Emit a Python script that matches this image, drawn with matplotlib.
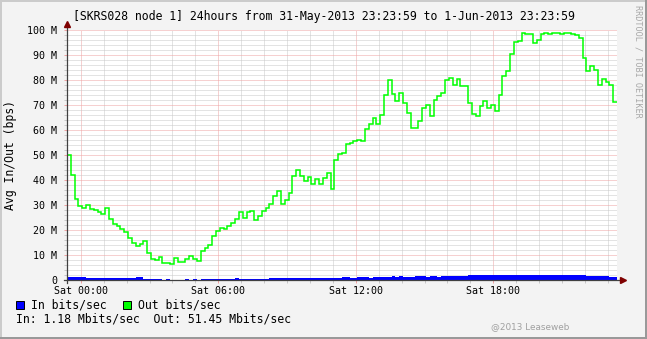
import datetime as dt
import numpy as np
import matplotlib
matplotlib.use("Agg")
import matplotlib.pyplot as plt
import matplotlib.dates as mdates
from matplotlib.ticker import MultipleLocator, FuncFormatter
from matplotlib.patches import Rectangle
from matplotlib.lines import Line2D

# ---------------- data ----------------
title = "[SKRS028 node 1] 24hours from 31-May-2013 23:23:59 to 1-Jun-2013 23:23:59"
start_time = dt.datetime(2013, 5, 31, 23, 23, 59)
step_minutes = 10
y_label = "Avg In/Out (bps)"
series_names = ["In bits/sec", "Out bits/sec"]
summary_text = "In: 1.18 Mbits/sec  Out: 51.45 Mbits/sec"
watermark = "RRDTOOL / TOBI OETIKER"
copyright_text = "@2013 Leaseweb"

# Out traffic, Mbit/s, one value per 10 minutes
out_mbps = [
    50, 42, 32.5, 29.5, 29, 30.2, 28.5, 28, 27.3, 26.5,
    29, 24.5, 22.3, 21.5, 20.4, 19.1, 16.7, 14.8, 13.5, 14.4,
    15.5, 11, 8.6, 8, 9.1, 6.8, 6.9, 6.6, 8.7, 7.2,
    7.4, 8.5, 9.6, 8.5, 7.8, 11.5, 12.9, 14.2, 17.5, 19.8,
    20.7, 20.4, 21.5, 23, 24.5, 27.3, 25, 27.1, 27.7, 24,
    25.8, 27.5, 29, 30.5, 33.5, 35.5, 30.5, 32, 35, 41.5,
    44, 41.5, 39.5, 41.2, 38.3, 40.6, 38.5, 41, 43, 36.5,
    48, 50.5, 51, 54.5, 55, 55.5, 56, 55.5, 60.5, 62.6,
    65, 62.3, 66, 74, 80, 74.5, 71.5, 75, 70.8, 67,
    61, 60.7, 63.5, 69, 70, 65.5, 72, 73.5, 75, 80,
    81, 78, 80.5, 77.5, 77.5, 70.8, 66.5, 65.8, 69.5, 71.5,
    69, 70, 67.5, 74, 81.5, 83.5, 90.5, 95.4, 95.5, 98.7,
    98.5, 98.5, 94.8, 96, 98.3, 98.7, 98.4, 98.7, 98.7, 98.4,
    98.7, 98.7, 98.6, 98, 97, 89, 83.5, 85.7, 84, 78,
    80.5, 79.2, 78, 71.4,
]

# In traffic, Mbit/s, one value per 10 minutes
in_mbps = [
    1.4, 1.4, 1.4, 1.3, 1.2, 1.0, 1.0, 1.0, 0.9, 0.9,
    0.9, 0.9, 1.0, 0.8, 1.0, 0.8, 0.9, 0.8, 1.1, 1.1,
    0.6, 0.5, 0.5, 0.4, 0.4, 0.1, 0.3, 0.1, 0.1, 0.1,
    0.1, 0.4, 0.1, 0.4, 0.1, 0.6, 0.6, 0.6, 0.6, 0.6,
    0.6, 0.6, 0.6, 0.6, 0.8, 0.6, 0.6, 0.6, 0.6, 0.6,
    0.6, 0.6, 0.6, 0.9, 0.9, 0.9, 0.9, 0.9, 0.9, 1.0,
    1.0, 1.0, 1.0, 1.0, 1.0, 1.0, 1.0, 1.0, 1.0, 1.0,
    1.0, 1.0, 1.1, 1.1, 1.0, 1.0, 1.1, 1.1, 1.1, 1.0,
    1.1, 1.1, 1.4, 1.4, 1.4, 1.5, 1.4, 1.5, 1.4, 1.4,
    1.4, 1.5, 1.5, 1.5, 1.4, 1.5, 1.5, 1.4, 1.5, 1.5,
    1.5, 1.5, 1.5, 1.5, 1.5, 2.0, 2.0, 2.1, 2.1, 2.1,
    2.1, 2.0, 2.0, 2.1, 2.1, 2.2, 2.2, 2.1, 2.1, 2.1,
    2.0, 2.1, 2.1, 2.1, 2.0, 2.1, 2.1, 2.0, 2.0, 2.0,
    2.0, 2.0, 2.0, 1.9, 1.9, 1.9, 1.6, 1.5, 1.5, 1.5,
    1.5, 1.5, 1.4, 1.4,
]

# ---------------- style ----------------
W, H = 647, 339
MONO = "DejaVu Sans Mono"
BACK = "#F3F3F3"
GRID = "#C8C8C8"
MGRID = "#EFA3A3"
AXIS = "#404040"
ARROW = "#7F0000"

fig = plt.figure(figsize=(W / 100, H / 100), dpi=100, facecolor=BACK)

def fx(px):
    return px / W

def fy(py):
    return 1 - py / H

L, R, T, B = 67, 617, 30, 280
ax = fig.add_axes([fx(L), fy(B), (R - L) / W, (B - T) / H])
ax.set_facecolor("white")

edges = [start_time + dt.timedelta(minutes=step_minutes * k) for k in range(len(out_mbps) + 1)]
edges_num = mdates.date2num(edges)

ax.stairs(in_mbps, edges_num, fill=True, color="#0000FF", linewidth=0, zorder=3)
ax.stairs(out_mbps, edges_num, baseline=None, color="#00FF00", linewidth=1.1, zorder=4)

ax.set_xlim(mdates.date2num(start_time), mdates.date2num(start_time + dt.timedelta(hours=24)))
ax.set_ylim(0, 100)

ax.xaxis.set_major_locator(mdates.HourLocator(byhour=[0, 6, 12, 18]))
ax.xaxis.set_minor_locator(mdates.HourLocator())
ax.xaxis.set_major_formatter(mdates.DateFormatter("%a %H:%M"))
ax.yaxis.set_major_locator(MultipleLocator(10))
ax.yaxis.set_minor_locator(MultipleLocator(2))
ax.yaxis.set_major_formatter(FuncFormatter(lambda v, p: "0" if v == 0 else f"{int(round(v))} M"))

ax.grid(which="minor", color=GRID, linestyle=(0, (1, 1)), linewidth=0.72, zorder=1)
ax.grid(which="major", color=MGRID, linestyle=(0, (1, 1)), linewidth=0.72, zorder=2)
ax.set_axisbelow(True)

ax.tick_params(axis="both", which="major", length=2, width=0.72, color=MGRID, pad=2,
               labelsize=7.2, labelcolor="black")
ax.tick_params(axis="both", which="minor", length=2, width=0.72, color=GRID)
ax.tick_params(axis="y", pad=5)
for lab in ax.get_xticklabels() + ax.get_yticklabels():
    lab.set_family(MONO)

for s in ax.spines.values():
    s.set_visible(False)

# axis lines with arrows (rrdtool style)
ax.add_line(Line2D([-3 / 550, 1 + 4 / 550], [0, 0], transform=ax.transAxes,
                   color=AXIS, linewidth=0.9, clip_on=False, zorder=6))
ax.add_line(Line2D([0, 0], [-3 / 250, 1 + 4 / 250], transform=ax.transAxes,
                   color=AXIS, linewidth=0.9, clip_on=False, zorder=6))
ax.plot([1 + 6 / 550], [0], marker=">", markersize=4.5, color=ARROW,
        transform=ax.transAxes, clip_on=False, zorder=7)
ax.plot([0], [1 + 6 / 250], marker="^", markersize=4.5, color=ARROW,
        transform=ax.transAxes, clip_on=False, zorder=7)

# title and labels
fig.text(fx(324), fy(20), title, ha="center", va="baseline", fontsize=8.3,
         family=MONO, color="black")
fig.text(fx(11), fy(155), y_label, ha="center", va="center", rotation=90,
         fontsize=8.3, family=MONO, color="black")

# legend
colors = ["#0000FF", "#00FF00"]
leg_x = [16, 123]
for name, c, x0 in zip(series_names, colors, leg_x):
    fig.add_artist(Rectangle((fx(x0), fy(309)), 8 / W, 8 / H, transform=fig.transFigure,
                             facecolor=c, edgecolor="black", linewidth=0.7))
    fig.text(fx(x0 + 15), fy(305.5), name, ha="left", va="center", fontsize=8.3,
             family=MONO, color="black")
fig.text(fx(16), fy(319.5), summary_text, ha="left", va="center", fontsize=8.3,
         family=MONO, color="black")

fig.text(fx(638), fy(61), watermark, ha="center", va="center", rotation=270,
         fontsize=6.1, family=MONO, color="#A8A8A8")
fig.text(fx(569), fy(327), copyright_text, ha="right", va="center",
         fontsize=6.4, family="DejaVu Sans", color="#A0A0A0")

# 3D frame
fig.add_artist(Rectangle((0, 1 - 2 / H), 1, 2 / H, transform=fig.transFigure,
                         facecolor="#CBCBCB", edgecolor="none"))
fig.add_artist(Rectangle((0, 0), 2 / W, 1, transform=fig.transFigure,
                         facecolor="#CBCBCB", edgecolor="none"))
fig.add_artist(Rectangle((0, 0), 1, 2 / H, transform=fig.transFigure,
                         facecolor="#999999", edgecolor="none"))
fig.add_artist(Rectangle((1 - 2 / W, 0), 2 / W, 1, transform=fig.transFigure,
                         facecolor="#999999", edgecolor="none"))

fig.savefig("out.png", dpi=100, facecolor=BACK)
